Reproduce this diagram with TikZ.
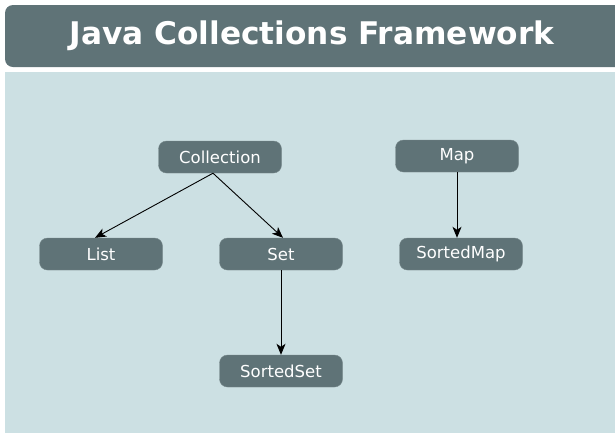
\documentclass[tikz,border=0pt]{standalone}
\usepackage{fontspec}
\setmainfont{DejaVu Sans}
\usepackage{xcolor}
\definecolor{SlateGray}{HTML}{5F7377}
\definecolor{PaleTeal}{HTML}{CCE0E3}
\usetikzlibrary{arrows.meta, positioning}
\tikzset{
  % Box styles
  ifacebox/.style={rectangle, rounded corners=8pt, draw=SlateGray!85!white, fill=SlateGray, text=white, minimum width=123pt, minimum height=32pt, inner sep=0pt, font=\fontsize{16.5}{19}\selectfont},
  % Arrow styles
  arrow/.style={-{Stealth[length=11pt, width=9pt, inset=3pt]}, line width=0.9pt, black}
}

\begin{document}
\begin{tikzpicture}[x=1pt, y=-1pt]
  \useasboundingbox (0,0) rectangle (615,432);

  % Header
  \fill[SlateGray, rounded corners=8pt] (5,5) rectangle (640,67);
  \node[font=\fontsize{31.2}{35}\selectfont\bfseries, text=white] (title) at (312,36) {Java Collections Framework};

  % Content panel
  \fill[PaleTeal] (5,72) rectangle (640,440);

  % Interfaces
  \node[ifacebox] (collection) at (220,157) {Collection};
  \node[ifacebox] (map) at (457,156) {Map};
  \node[ifacebox] (list) at (101,254) {List};
  \node[ifacebox] (set) at (281,254) {Set};
  \node[ifacebox] (sortedmap) at (461,254) {SortedMap};
  \node[ifacebox] (sortedset) at (281,371) {SortedSet};

  % Inheritance arrows
  \coordinate (fork) at ([xshift=-7pt]collection.south);
  \draw[arrow] (fork) -- ([xshift=-6pt]list.north);
  \draw[arrow] (fork) -- ([xshift=2pt]set.north);
  \draw[arrow] (set.south) -- (sortedset.north);
  \draw[arrow] (map.south) -- (map.south |- sortedmap.north);
\end{tikzpicture}
\end{document}
